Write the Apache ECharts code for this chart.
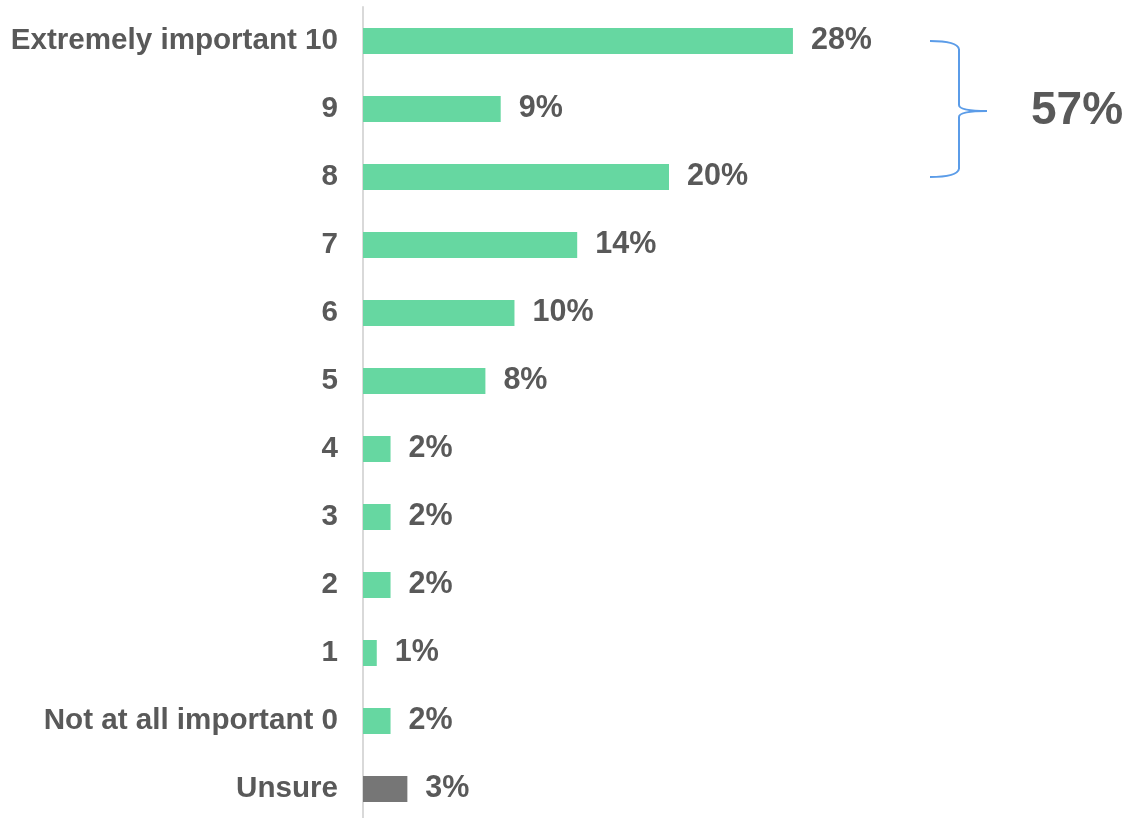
<!DOCTYPE html>
<html>
<head>
<meta charset="utf-8">
<script src="https://cdn.jsdelivr.net/npm/echarts@6/dist/echarts.min.js"></script>
<style>
  html, body { margin: 0; padding: 0; background: #ffffff; }
  #main { width: 1129px; height: 818px; }
</style>
</head>
<body>
<div id="main"></div>
<script>
// 数据
const categories = ['Extremely important 10', '9', '8', '7', '6', '5', '4', '3', '2', '1', 'Not at all important 0', 'Unsure'];
const values = [28.1, 9.0, 20.0, 14.0, 9.9, 8.0, 1.8, 1.8, 1.8, 0.9, 1.8, 2.9];
const totalLabel = '57%';

const green = '#66d7a1';
const grey = '#767676';
const textColor = '#595959';
const braceColor = '#5b9ce8';

var chart = echarts.init(document.getElementById('main'));
var option = {
  backgroundColor: '#ffffff',
  animation: false,
  grid: { left: 363, width: 612, top: 7, height: 816, outerBoundsMode: 'none' },
  xAxis: {
    type: 'value',
    min: 0,
    max: 40,
    show: false
  },
  yAxis: {
    type: 'category',
    inverse: true,
    data: categories,
    axisLine: { show: true, lineStyle: { color: '#d9d9d9', width: 2 } },
    axisTick: { show: false },
    axisLabel: {
      color: textColor,
      fontFamily: 'Liberation Sans, Arial, sans-serif',
      fontWeight: 'bold',
      fontSize: 29.6,
      margin: 25
    }
  },
  series: [
    {
      type: 'bar',
      barWidth: 26,
      data: values.map(function (v, i) {
        return { value: v, itemStyle: { color: i === categories.length - 1 ? grey : green } };
      }),
      label: {
        show: true,
        position: 'right',
        distance: 18,
        color: textColor,
        fontFamily: 'Liberation Sans, Arial, sans-serif',
        fontWeight: 'bold',
        fontSize: 30.5,
        formatter: function (p) { return Math.round(p.value) + '%'; }
      }
    }
  ]
};
chart.setOption(option);

// 括号标注 (top 3 boxes)
var y1 = chart.convertToPixel({ yAxisIndex: 0 }, categories[0]);
var y2 = chart.convertToPixel({ yAxisIndex: 0 }, categories[2]);
var ym = (y1 + y2) / 2 + 2;
var xa = 930, xb = 959, xc = 987;
var braceStyle = { stroke: braceColor, lineWidth: 2, fill: null };

chart.setOption({
  graphic: [
    { type: 'bezierCurve', shape: { x1: xa, y1: y1, x2: xb, y2: y1 + 8, cpx1: xb - 2, cpy1: y1 }, style: braceStyle },
    { type: 'line', shape: { x1: xb, y1: y1 + 8, x2: xb, y2: ym - 6 }, style: braceStyle },
    { type: 'bezierCurve', shape: { x1: xb, y1: ym - 6, x2: xc, y2: ym, cpx1: xb, cpy1: ym }, style: braceStyle },
    { type: 'bezierCurve', shape: { x1: xc, y1: ym, x2: xb, y2: ym + 6, cpx1: xb, cpy1: ym }, style: braceStyle },
    { type: 'line', shape: { x1: xb, y1: ym + 6, x2: xb, y2: y2 - 8 }, style: braceStyle },
    { type: 'bezierCurve', shape: { x1: xb, y1: y2 - 8, x2: xa, y2: y2, cpx1: xb - 2, cpy1: y2 }, style: braceStyle },
    {
      type: 'text',
      x: 1031,
      y: ym,
      style: {
        text: totalLabel,
        fill: textColor,
        verticalAlign: 'middle',
        font: 'bold 46px "Liberation Sans", Arial, sans-serif'
      }
    }
  ]
});
</script>
</body>
</html>
